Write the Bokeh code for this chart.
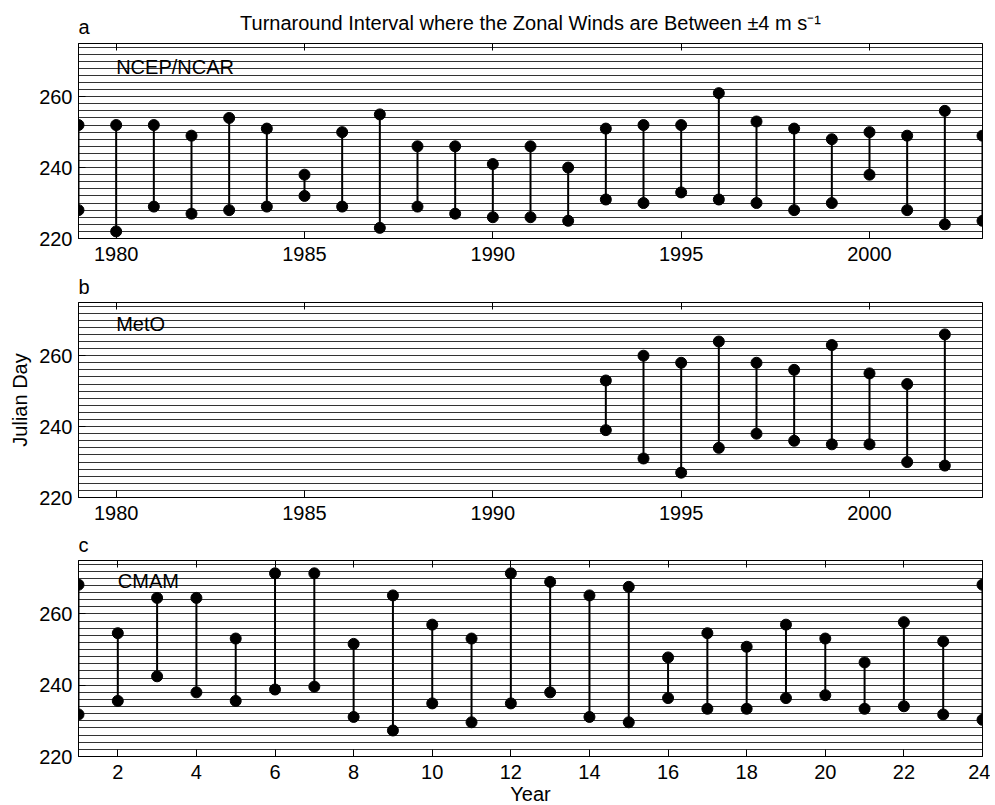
from bokeh.plotting import figure
from bokeh.layouts import column
from bokeh.models import FixedTicker, LinearAxis, CustomJSTickFormatter, Range1d
from bokeh.core.properties import value
from bokeh.embed import file_html
from bokeh.resources import INLINE

# ---------------- data ----------------
years_ncep = list(range(1979, 2004))
ncep_top = [252, 252, 252, 249, 254, 251, 238, 250, 255, 246, 246, 241, 246,
            240, 251, 252, 252, 261, 253, 251, 248, 250, 249, 256, 249]
ncep_bot = [228, 222, 229, 227, 228, 229, 232, 229, 223, 229, 227, 226, 226,
            225, 231, 230, 233, 231, 230, 228, 230, 238, 228, 224, 225]

years_meto = list(range(1993, 2003))
meto_top = [253, 260, 258, 264, 258, 256, 263, 255, 252, 266]
meto_bot = [239, 231, 227, 234, 238, 236, 235, 235, 230, 229]

years_cmam = list(range(1, 25))
cmam_top = [268.2, 254.6, 264.5, 264.5, 253.1, 271.4, 271.4, 251.6, 265.2, 257.0,
            253.1, 271.4, 269.0, 265.2, 267.6, 247.8, 254.6, 250.8, 257.0, 253.1,
            246.4, 257.7, 252.3, 268.2]
cmam_bot = [231.8, 235.6, 242.5, 238.0, 235.6, 238.8, 239.6, 231.1, 227.3, 234.9,
            229.6, 234.9, 238.0, 231.1, 229.6, 236.4, 233.4, 233.4, 236.4, 237.2,
            233.4, 234.1, 231.8, 230.3]

y_ticks = [220, 240, 260]
x_ticks_year = [1980, 1985, 1990, 1995, 2000]
x_ticks_cmam = list(range(2, 25, 2))
grid_days = list(range(222, 275, 2))

title_text = "Turnaround Interval where the Zonal Winds are Between \u00b14 m s\u207b\u00b9"

FONT = "Liberation Sans"
FS = "20px"
LEFT = 78
RIGHT = 8
FRAME_W = 904


def header(xr, h, texts):
    """A thin axis-less strip holding text that sits outside a panel's frame."""
    p = figure(output_backend="svg", toolbar_location=None, title=None,
               x_range=Range1d(*xr), y_range=Range1d(0, h),
               frame_width=FRAME_W, frame_height=h,
               min_border_left=LEFT, min_border_right=RIGHT,
               min_border_top=0, min_border_bottom=0,
               x_axis_location=None, y_axis_location=None,
               background_fill_color="white", border_fill_color="white")
    p.outline_line_color = None
    p.grid.visible = False
    for (x, y, t, align, fs) in texts:
        p.text(x=[x], y=[y], text=[t], text_align=align, text_baseline="middle",
               text_font=value(FONT), text_font_size=fs, text_color="black")
    return p


def make_panel(xr, xticks, xs, tops, bots, model_name, name_x, name_y,
               frame_h, bottom_border, ylabel=None, xlabel=None):
    p = figure(output_backend="svg", toolbar_location=None, title=None,
               x_range=Range1d(*xr), y_range=Range1d(220, 275),
               frame_width=FRAME_W, frame_height=frame_h,
               min_border_left=LEFT, min_border_right=RIGHT,
               min_border_top=5, min_border_bottom=bottom_border,
               background_fill_color="white", border_fill_color="white")
    p.outline_line_color = "black"
    p.outline_line_width = 1
    p.xgrid.grid_line_color = None
    p.ygrid.ticker = FixedTicker(ticks=grid_days)
    p.ygrid.grid_line_color = "black"
    p.ygrid.grid_line_alpha = 0.8
    p.ygrid.grid_line_width = 1

    for ax in (p.xaxis[0], p.yaxis[0]):
        ax.major_tick_in = 7
        ax.major_tick_out = 0
        ax.minor_tick_line_color = None
        ax.axis_line_color = "black"
        ax.major_tick_line_color = "black"
        ax.major_label_text_font = FONT
        ax.major_label_text_font_size = FS
        ax.major_label_text_color = "black"
        ax.axis_label_text_font = FONT
        ax.axis_label_text_font_size = FS
        ax.axis_label_text_font_style = "normal"
        ax.axis_label_text_color = "black"
    p.xaxis[0].ticker = FixedTicker(ticks=xticks)
    p.xaxis[0].major_label_standoff = 8
    p.yaxis[0].ticker = FixedTicker(ticks=y_ticks)
    p.yaxis[0].major_label_standoff = 6
    if ylabel:
        p.yaxis[0].axis_label = ylabel
        p.yaxis[0].axis_label_standoff = 5
    if xlabel:
        p.xaxis[0].axis_label = xlabel
        p.xaxis[0].axis_label_standoff = 1

    top_ax = LinearAxis(ticker=FixedTicker(ticks=xticks),
                        formatter=CustomJSTickFormatter(code="return ''"),
                        major_tick_in=7, major_tick_out=0,
                        minor_tick_line_color=None, major_label_standoff=0,
                        major_label_text_font_size="1px",
                        axis_line_color="black")
    p.add_layout(top_ax, "above")

    p.segment(x0=xs, y0=bots, x1=xs, y1=tops, line_color="black", line_width=2)
    p.scatter(x=xs, y=tops, size=11, marker="circle", fill_color="black", line_color="black")
    p.scatter(x=xs, y=bots, size=11, marker="circle", fill_color="black", line_color="black")

    p.text(x=[name_x], y=[name_y], text=[model_name], text_align="left",
           text_baseline="middle", text_font=value(FONT), text_font_size=FS,
           text_color="black")
    return p


h1 = header((1979, 2003), 38, [(1991, 15.3, title_text, "center", FS),
                               (1979, 11.5, "a", "left", FS)])
p1 = make_panel((1979, 2003), x_ticks_year, years_ncep, ncep_top, ncep_bot,
                "NCEP/NCAR", 1980, 268.4, 195, 36)
h2 = header((1979, 2003), 23, [(1979, 10.7, "b", "left", FS)])
p2 = make_panel((1979, 2003), x_ticks_year, years_meto, meto_top, meto_bot,
                "MetO", 1980, 269.0, 195, 36, ylabel="Julian Day")
h3 = header((1, 24), 22, [(1, 10.7, "c", "left", FS)])
p3 = make_panel((1, 24), x_ticks_cmam, years_cmam, cmam_top, cmam_bot,
                "CMAM", 2, 269.2, 196, 48, xlabel="Year")

layout = column(h1, p1, h2, p2, h3, p3, spacing=0)
open("out.html", "w").write(file_html(layout, INLINE))
